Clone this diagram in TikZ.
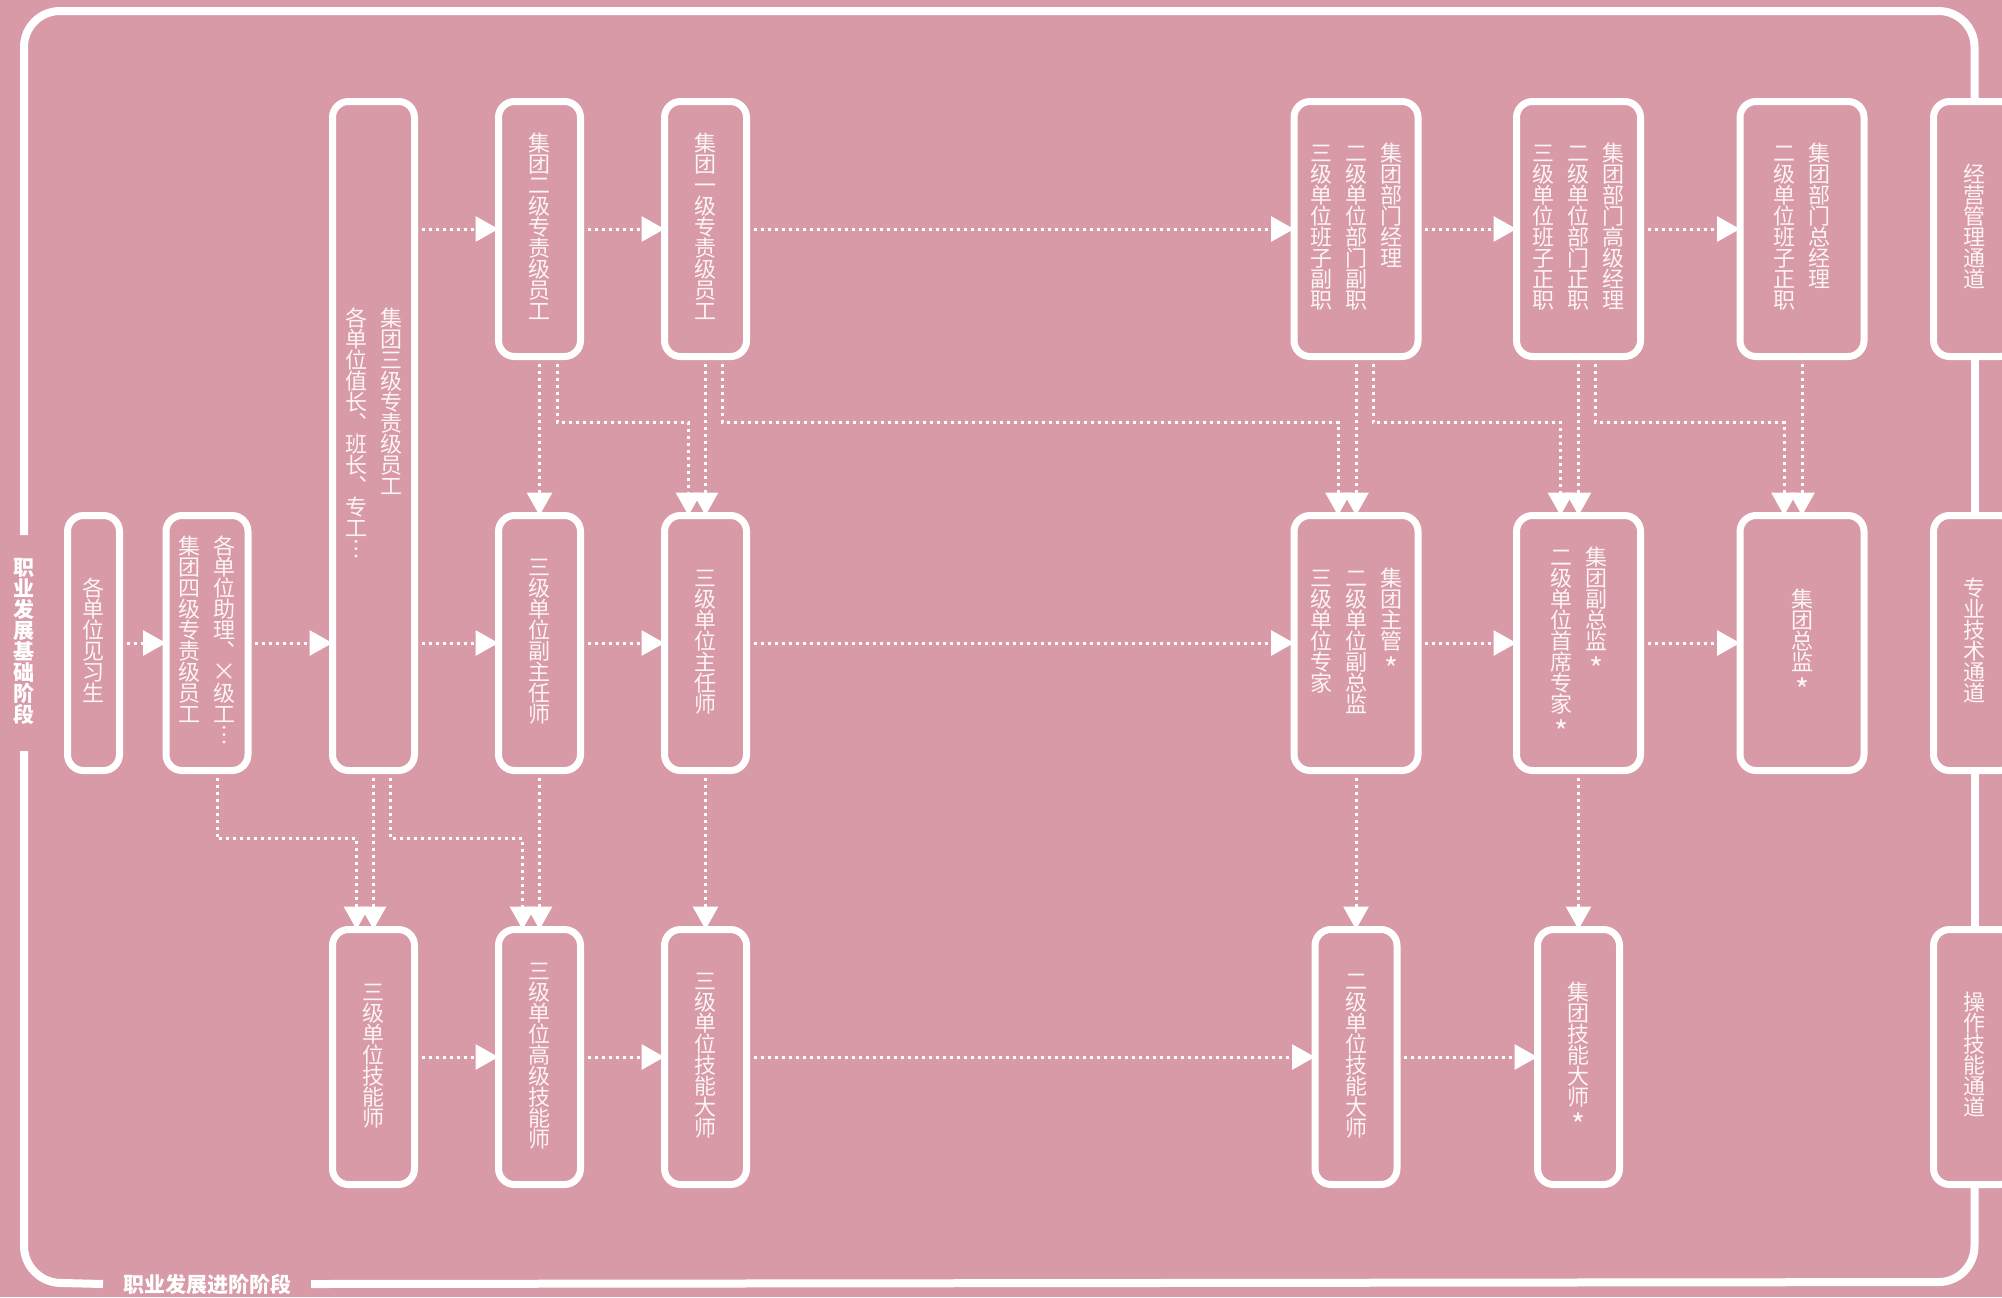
\documentclass[tikz,border=0pt]{standalone}
\usepackage{fontspec}
\usepackage{tikz}
\usetikzlibrary{arrows.meta, positioning}
\usepackage{xcolor}

\newfontfamily\cjk{Noto Sans CJK SC}
\definecolor{bgpink}{RGB}{216,154,166}
\definecolor{softwhite}{RGB}{252,244,246}

% vertical text, one character per row
\newtoks\vtoks
\def\vtend{vtend}
\newcommand{\vrow}[1]{\hbox to 11pt{\hss\raisebox{0pt}[8.3pt][2.2pt]{#1}\hss}}
\def\vtsplit#1{\ifx#1\vtend\else\vtoks=\expandafter{\the\vtoks\vrow{#1}}\expandafter\vtsplit\fi}
\newcommand{\vt}[1]{\vtoks={}\vtsplit#1\vtend\vtop{\offinterlineskip\the\vtoks}}
\newcommand{\vgap}{\hspace{6.5pt}}
\newcommand{\vstar}{\raisebox{-5pt}{\fontsize{15}{15}\selectfont *}}
\newcommand{\vtimes}{\makebox[11pt]{\fontsize{12}{12}\selectfont ×}}

\tikzset{
  stage/.style={draw=white, line width=3.5pt, rounded corners=8pt,
    minimum width=41pt, minimum height=127.5pt, inner sep=0pt, outer sep=0pt,
    text=softwhite, font=\cjk\fontsize{11}{10.5}\selectfont},
  widestage/.style={stage, minimum width=62pt},
  stagelabel/.style={inner xsep=0pt, inner ysep=12pt, outer sep=0pt, text=white,
    font=\cjk\bfseries\fontsize{10.5}{10.5}\selectfont},
  promote/.style={white, line width=1.5pt, dash pattern=on 1.5pt off 2pt,
    -{Triangle[length=11.5pt, width=12.5pt]}},
  stageframe/.style={draw=white, line width=4pt, rounded corners=18pt}
}

\begin{document}
\begin{tikzpicture}[x=0.5pt, y=-0.5pt]
    \useasboundingbox (0,0) rectangle (2002,1297);
    \clip (0,0) rectangle (2002,1297);
    \fill[bgpink] (0,0) rectangle (2002,1297);

    % Add the technical row
        \node[stage, minimum width=26pt] (t1) at (93.5,643) {\vt{各单位见习生}};
        \node[stage,
              right=23.25pt of t1] (t2) {\vt{集团四级专责级员工}\vgap\vt{各单位助理︑\vtimes 级工︙}};
        \node[stage,
              minimum height=334.5pt,
              right=42.25pt of t2.south east,
              anchor=south west] (t3) {\vt{各单位值长︑班长︑专工︙}\vgap\vt{集团三级专责级员工}};
        \node[stage,
              right=42pt of t3.south east,
              anchor=south west] (t4) {\vt{三级单位副主任师}};
        \node[stage, right=42pt of t4] (t5) {\vt{三级单位主任师}};
        \node[widestage, right=273.75pt of t5] (t6) {\vt{三级单位专家}\vgap\vt{二级单位副总监}\vgap\vt{集团主管\vstar}};
        \node[widestage, right=49.25pt of t6] (t7) {\vt{二级单位首席专家\vstar}\vgap\vt{集团副总监\vstar}};
        \node[widestage, right=49.75pt of t7] (t8) {\vt{集团总监\vstar}};
        \node[stage, right=34.75pt of t8] (cht) {\vt{专业技术通道}};

    % Add the management row
        \node[stage, above=79.5pt of t4] (m4) {\vt{集团二级专责级员工}};
        \node[stage, above=79.5pt of t5] (m5) {\vt{集团一级专责级员工}};
        \node[widestage, above=79.5pt of t6] (m6) {\vt{三级单位班子副职}\vgap\vt{二级单位部门副职}\vgap\vt{集团部门经理}};
        \node[widestage, above=79.5pt of t7] (m7) {\vt{三级单位班子正职}\vgap\vt{二级单位部门正职}\vgap\vt{集团部门高级经理}};
        \node[widestage, above=79.5pt of t8] (m8) {\vt{二级单位班子正职}\vgap\vt{集团部门总经理}};
        \node[stage, above=79.5pt of cht] (chm) {\vt{经营管理通道}};

    % Add the skill row
        \node[stage, below=79.5pt of t3] (s3) {\vt{三级单位技能师}};
        \node[stage, below=79.5pt of t4] (s4) {\vt{三级单位高级技能师}};
        \node[stage, below=79.5pt of t5] (s5) {\vt{三级单位技能大师}};
        \node[stage, below=79.5pt of t6] (s6) {\vt{二级单位技能大师}};
        \node[stage, below=79.5pt of t7] (s7) {\vt{集团技能大师\vstar}};
        \node[stage, below=79.5pt of cht] (chs) {\vt{操作技能通道}};

    % Add the frame
        \node[stagelabel] (base) at (24,643) {\vt{职业发展基础阶段}};
        \node[stagelabel, inner xsep=10pt] (prog) at (207,1284) {职业发展进阶阶段};
        \coordinate (tl) at (24,11);
        \coordinate (bl) at (24,1282);
        \coordinate (tr) at (chm.north |- tl);
        \coordinate (br) at (chs.south |- bl);

        \draw[stageframe] (base.north) -- (tl) -- (tr) -- (chm.north);
        \draw[stageframe] (chs.south) -- (br) -- (prog.east);
        \draw[stageframe] (prog.west) -- (bl) -- (base.south);
        \draw[stageframe] (chm) -- (cht) (cht) -- (chs);

    \path[promote]
        (m4.west -| t3.east) edge (m4.west)
        (m4) edge (m5)
        (m5) edge (m6)
        (m6) edge (m7)
        (m7) edge (m8)
        (t1) edge (t2)
        (t2.east) edge (t2.east -| t3.west)
        (t4.west -| t3.east) edge (t4.west)
        (t4) edge (t5)
        (t5) edge (t6)
        (t6) edge (t7)
        (t7) edge (t8)
        (s3) edge (s4)
        (s4) edge (s5)
        (s5) edge (s6)
        (s6) edge (s7)
        (m4) edge (t4)
        (m5) edge (t5)
        (m6) edge (t6)
        (m7) edge (t7)
        (m8) edge (t8)
        (t3) edge (s3)
        (t4) edge (s4)
        (t5) edge (s5)
        (t6) edge (s6)
        (t7) edge (s7);

    \draw[promote] ([xshift=9pt]m4.south) -- ++(0pt,-33pt) -| ([xshift=-8.5pt]t5.north);
    \draw[promote] ([xshift=8.5pt]m5.south) -- ++(0pt,-33pt) -| ([xshift=-9pt]t6.north);
    \draw[promote] ([xshift=8.5pt]m6.south) -- ++(0pt,-33pt) -| ([xshift=-9pt]t7.north);
    \draw[promote] ([xshift=8.5pt]m7.south) -- ++(0pt,-33pt) -| ([xshift=-9pt]t8.north);
    \draw[promote] ([xshift=5pt]t2.south) -- ++(0pt,-34pt) -| ([xshift=-8.5pt]s3.north);
    \draw[promote] ([xshift=8.5pt]t3.south) -- ++(0pt,-34pt) -| ([xshift=-8.5pt]s4.north);
\end{tikzpicture}
\end{document}
